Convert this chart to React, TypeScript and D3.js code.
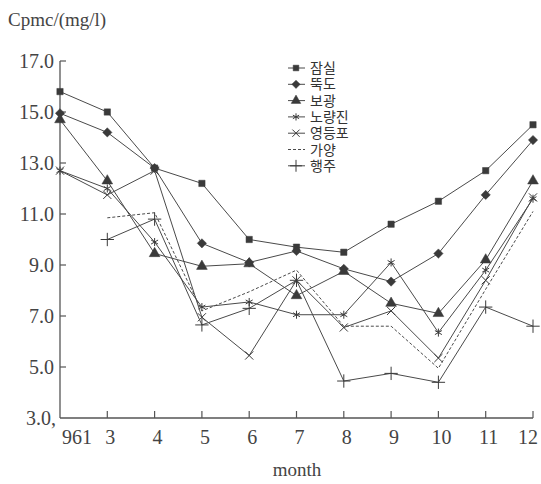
import React from 'react';
import * as d3 from 'd3';

// month labels ('96.1 then Mar..Dec)
const months = ['961', '3', '4', '5', '6', '7', '8', '9', '10', '11', '12'];
const yTicks = [3, 5, 7, 9, 11, 13, 15, 17];
const yTickLabels = ['3.0,', '5.0', '7.0', '9.0', '11.0', '13.0', '15.0', '17.0'];

const jamsil = [15.8, 15.0, 12.8, 12.2, 10.0, 9.7, 9.5, 10.6, 11.5, 12.7, 14.5];
const ttukdo = [14.95, 14.2, 12.8, 9.85, 9.1, 9.55, 8.85, 8.35, 9.45, 11.75, 13.9];
const bogwang = [14.7, 12.3, 9.45, 8.95, 9.05, 7.8, 8.75, 7.5, 7.1, 9.2, 12.3];
const noryangjin = [12.7, 12.0, 9.9, 7.35, 7.55, 7.05, 7.05, 9.1, 6.35, 8.8, 11.6];
const yeongdeungpo = [12.7, 11.75, 12.7, 6.95, 5.45, 8.4, 6.55, 7.2, 5.35, 8.4, 11.65];
const gayang = [null, 10.85, 11.05, 7.2, 7.95, 8.8, 6.6, 6.6, 4.95, 8.05, 11.1];
const haengju = [null, 10.0, 10.8, 6.65, 7.3, 8.4, 4.45, 4.75, 4.4, 7.35, 6.6];

const series = [
  { name: '잠실', values: jamsil, symbol: d3.symbolSquare, size: 40, fill: true },
  { name: '뚝도', values: ttukdo, symbol: d3.symbolDiamond2, size: 55, fill: true },
  { name: '보광', values: bogwang, symbol: d3.symbolTriangle, size: 50, fill: true },
  { name: '노량진', values: noryangjin, symbol: d3.symbolAsterisk, size: 45, fill: false },
  { name: '영등포', values: yeongdeungpo, symbol: d3.symbolTimes, size: 45, fill: false },
  { name: '가양', values: gayang, symbol: null, size: 0, fill: false, dashed: true },
  { name: '행주', values: haengju, symbol: d3.symbolPlus, size: 60, fill: false },
];

const serif = '"Liberation Serif", "DejaVu Serif", serif';
const kr = '"Noto Sans CJK KR", sans-serif';

export default function App() {
  const x = d3.scalePoint<string>().domain(months).range([60, 533]);
  const y = d3.scaleLinear().domain([3, 17]).range([418, 61]);

  const line = d3
    .line<number | null>()
    .defined((d) => d != null)
    .x((_, i) => x(months[i]) as number)
    .y((d) => y(d as number));

  const lineColor = '#4a4a4a';
  const markColor = '#3a3a3a';
  const last = months.length - 1;

  return (
    <svg width={541} height={484} style={{ position: 'absolute', left: 0, top: 0, background: '#fff' }}>
      <text x={8} y={26} fontFamily={serif} fontSize={19} fill="#444">Cpmc/(mg/l)</text>

      {/* axes */}
      <line x1={60} y1={61} x2={60} y2={418} stroke="#555" strokeWidth={1.3} />
      <line x1={60} y1={418} x2={533} y2={418} stroke="#555" strokeWidth={1.3} />
      {yTicks.map((t, i) => (
        <g key={t}>
          {i > 0 && <line x1={60} x2={66} y1={y(t)} y2={y(t)} stroke="#555" strokeWidth={1.2} />}
          <text x={i === 0 ? 56 : 54} y={y(t)} dy="0.35em" textAnchor="end" fontFamily={serif} fontSize={20} fill="#444">
            {yTickLabels[i]}
          </text>
        </g>
      ))}
      {months.map((m, i) => (
        <g key={m}>
          {i > 0 && <line x1={x(m)} x2={x(m)} y1={418} y2={411} stroke="#555" strokeWidth={1.2} />}
          <text
            x={i === 0 ? 62 : i === last ? 538 : (x(m) as number) + 3}
            y={444}
            textAnchor={i === 0 ? 'start' : i === last ? 'end' : 'middle'}
            fontFamily={serif}
            fontSize={20}
            fill="#444"
          >
            {m}
          </text>
        </g>
      ))}
      <text x={297} y={476} textAnchor="middle" fontFamily={serif} fontSize={19} fill="#444">month</text>

      {/* series */}
      {series.map((s) => (
        <g key={s.name}>
          <path
            d={line(s.values) ?? ''}
            fill="none"
            stroke={lineColor}
            strokeWidth={1}
            strokeDasharray={s.dashed ? '3,2' : undefined}
          />
          {s.symbol &&
            s.values.map((v, i) =>
              v == null ? null : (
                <path
                  key={i}
                  transform={`translate(${x(months[i])},${y(v)})`}
                  d={d3.symbol(s.symbol as d3.SymbolType, s.size)() ?? ''}
                  fill={s.fill ? markColor : 'none'}
                  stroke={markColor}
                  strokeWidth={s.fill ? 0.5 : 1}
                />
              )
            )}
        </g>
      ))}

      {/* legend */}
      {series.map((s, i) => {
        const ly = 68 + i * 16.3;
        return (
          <g key={s.name}>
            <line
              x1={288}
              x2={305}
              y1={ly}
              y2={ly}
              stroke={lineColor}
              strokeWidth={1}
              strokeDasharray={s.dashed ? '3,2' : undefined}
            />
            {s.symbol && (
              <path
                transform={`translate(296,${ly})`}
                d={d3.symbol(s.symbol as d3.SymbolType, s.size * 0.8)() ?? ''}
                fill={s.fill ? markColor : 'none'}
                stroke={markColor}
                strokeWidth={s.fill ? 0.5 : 1}
              />
            )}
            <text x={310} y={ly} dy="0.36em" fontFamily={kr} fontSize={14} fill="#333">
              {s.name}
            </text>
          </g>
        );
      })}
    </svg>
  );
}
